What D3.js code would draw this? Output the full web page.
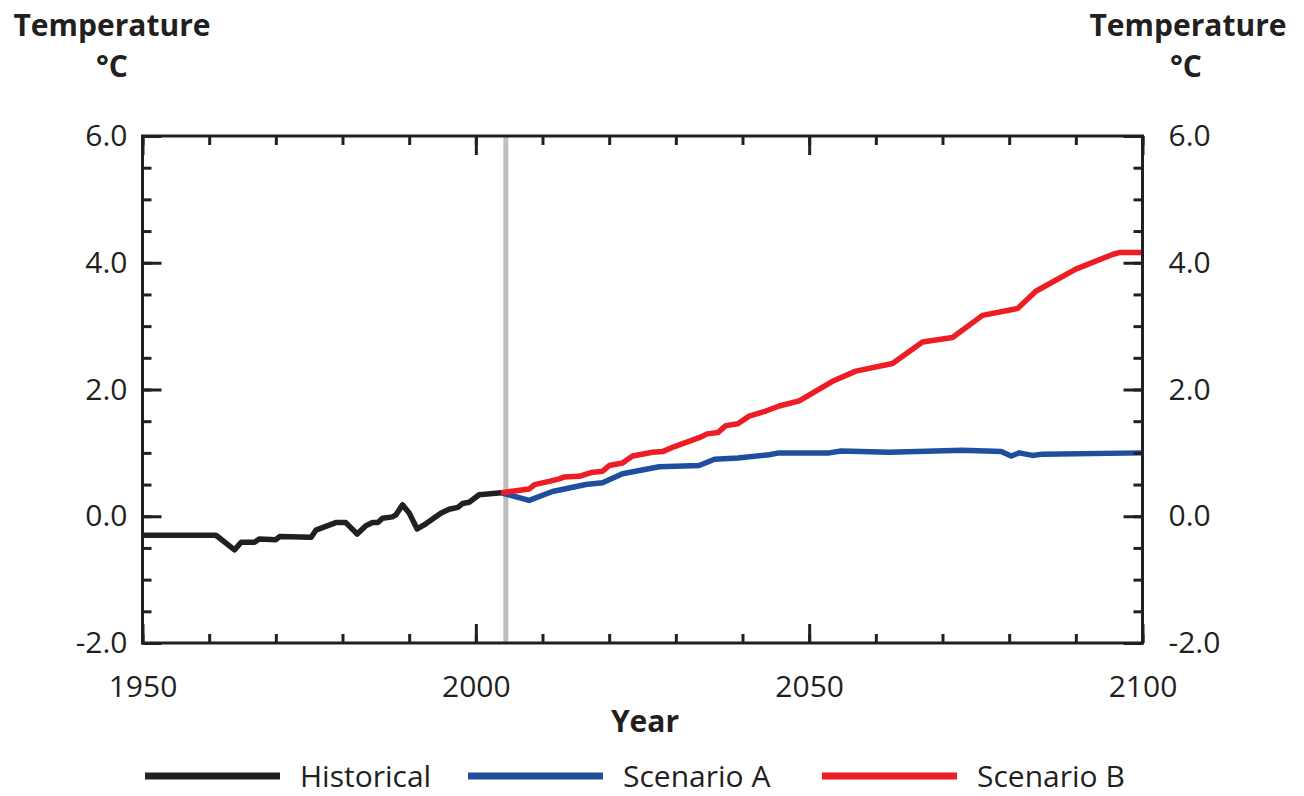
<!DOCTYPE html>
<html>
<head>
<meta charset="utf-8">
<script src="https://cdn.jsdelivr.net/npm/d3@7"></script>
<style>
  html, body { margin: 0; padding: 0; background: #fff; }
  svg text { font-family: "Open Sans", "Noto Sans", sans-serif; fill: #231f20; }
</style>
</head>
<body>
<svg id="chart" width="1304" height="796"></svg>
<script>
// ---- data ----
const histYears = [1950, 1961, 1961.5, 1963.8, 1964.8, 1966.8, 1967.5, 1970, 1970.6, 1975.3, 1976, 1979, 1980.5, 1982.2, 1983.5, 1984.5, 1985.3, 1986, 1987.5, 1988, 1989, 1990, 1991.2, 1992.5, 1994.8, 1996, 1997.3, 1998, 1999, 2000.5, 2003.8];
const histTemps = [-0.30, -0.30, -0.34, -0.53, -0.41, -0.41, -0.36, -0.37, -0.32, -0.33, -0.22, -0.10, -0.10, -0.28, -0.15, -0.10, -0.10, -0.03, -0.01, 0.02, 0.18, 0.05, -0.20, -0.12, 0.05, 0.11, 0.14, 0.20, 0.22, 0.34, 0.37];

const scenAYears = [2003.8, 2008, 2011.5, 2016.5, 2019, 2022, 2027.5, 2033.5, 2035.8, 2039.3, 2044, 2045.5, 2053, 2054.8, 2062, 2073, 2078.8, 2080.3, 2081.5, 2083.5, 2085, 2100];
const scenATemps = [0.37, 0.25, 0.39, 0.50, 0.53, 0.67, 0.78, 0.80, 0.90, 0.92, 0.97, 1.00, 1.00, 1.03, 1.01, 1.04, 1.02, 0.95, 1.00, 0.96, 0.98, 1.00];

const scenBYears = [2003.8, 2008, 2008.8, 2011, 2012.5, 2013.3, 2015.5, 2017.3, 2019, 2020, 2022, 2023.5, 2026.5, 2028, 2029.8, 2033.5, 2034.7, 2036.3, 2037.5, 2039.3, 2041, 2043.5, 2045.5, 2048.5, 2053.5, 2057, 2062.5, 2067, 2071.5, 2076, 2081.3, 2084, 2090, 2095.5, 2096.5, 2100];
const scenBTemps = [0.37, 0.43, 0.50, 0.55, 0.59, 0.62, 0.63, 0.69, 0.71, 0.80, 0.84, 0.95, 1.01, 1.02, 1.10, 1.24, 1.30, 1.32, 1.43, 1.46, 1.58, 1.66, 1.74, 1.82, 2.13, 2.29, 2.41, 2.75, 2.82, 3.17, 3.28, 3.55, 3.90, 4.13, 4.16, 4.16];

const projectionStart = 2004.5;

const xMinorTicks = d3.range(1950, 2101, 10);
const xMajorTicks = [1950, 2000, 2050, 2100];
const yMinorTicks = d3.range(-2, 6.01, 0.5);
const yMajorTicks = [-2, 0, 2, 4, 6];

const seriesNames = ["Historical", "Scenario A", "Scenario B"];
const seriesColors = ["#231f20", "#1f4e9f", "#ee1c25"];

// ---- layout ----
const svg = d3.select("#chart");
const pLeft = 142.5, pRight = 1142.5, pTop = 136, pBottom = 643;
const ink = "#231f20";

const x = d3.scaleLinear().domain([1950, 2100]).range([pLeft, pRight]);
const y = d3.scaleLinear().domain([-2, 6]).range([pBottom, pTop]);
const yFmt = v => d3.format(".1f")(v).replace("\u2212", "-");

// projection start marker
svg.append("line")
  .attr("x1", x(projectionStart)).attr("x2", x(projectionStart))
  .attr("y1", pTop).attr("y2", pBottom)
  .attr("stroke", "#bfbfbf").attr("stroke-width", 5);

// lines
const line = d3.line().x(d => x(d[0])).y(d => y(d[1]));
const series = [
  d3.zip(histYears, histTemps),
  d3.zip(scenAYears, scenATemps),
  d3.zip(scenBYears, scenBTemps)
];
series.forEach((s, i) => {
  svg.append("path").datum(s)
    .attr("d", line)
    .attr("fill", "none")
    .attr("stroke", seriesColors[i])
    .attr("stroke-width", 5.5)
    .attr("stroke-linejoin", "round");
});

// axes
function styleAxis(g) {
  g.select(".domain").remove();
  g.selectAll(".tick line").attr("stroke", ink).attr("stroke-width", 3);
  g.selectAll(".tick text").attr("font-size", 30).attr("fill", ink);
}
svg.append("g").attr("transform", `translate(0,${pBottom})`)
  .call(d3.axisBottom(x).tickValues(xMinorTicks).tickSize(-9).tickFormat("")).call(styleAxis);
svg.append("g").attr("transform", `translate(0,${pBottom})`)
  .call(d3.axisBottom(x).tickValues(xMajorTicks).tickSize(-19).tickPadding(33).tickFormat(d3.format("d"))).call(styleAxis);
svg.append("g").attr("transform", `translate(0,${pTop})`)
  .call(d3.axisTop(x).tickValues(xMinorTicks).tickSize(-9).tickFormat("")).call(styleAxis);
svg.append("g").attr("transform", `translate(0,${pTop})`)
  .call(d3.axisTop(x).tickValues(xMajorTicks).tickSize(-19).tickFormat("")).call(styleAxis);
svg.append("g").attr("transform", `translate(${pLeft},0)`)
  .call(d3.axisLeft(y).tickValues(yMinorTicks).tickSize(-9).tickFormat("")).call(styleAxis);
svg.append("g").attr("transform", `translate(${pLeft},0)`)
  .call(d3.axisLeft(y).tickValues(yMajorTicks).tickSize(-19).tickPadding(15).tickFormat(yFmt)).call(styleAxis);
svg.append("g").attr("transform", `translate(${pRight},0)`)
  .call(d3.axisRight(y).tickValues(yMinorTicks).tickSize(-9).tickFormat("")).call(styleAxis);
svg.append("g").attr("transform", `translate(${pRight},0)`)
  .call(d3.axisRight(y).tickValues(yMajorTicks).tickSize(-19).tickPadding(26).tickFormat(yFmt)).call(styleAxis);

// frame
svg.append("rect")
  .attr("x", pLeft).attr("y", pTop)
  .attr("width", pRight - pLeft).attr("height", pBottom - pTop)
  .attr("fill", "none").attr("stroke", ink).attr("stroke-width", 3);

// titles
const titleFont = 30;
[[112, "Temperature", 36], [112, "°C", 77], [1188, "Temperature", 36], [1186, "°C", 77]].forEach(t => {
  svg.append("text").attr("x", t[0]).attr("y", t[2])
    .attr("text-anchor", "middle").attr("font-weight", "bold")
    .attr("font-size", titleFont).text(t[1]);
});
svg.append("text").attr("x", 645).attr("y", 732)
  .attr("text-anchor", "middle").attr("font-weight", "bold")
  .attr("font-size", titleFont).text("Year");

// legend
const legendX = [145, 468, 822];
seriesNames.forEach((n, i) => {
  svg.append("line")
    .attr("x1", legendX[i]).attr("x2", legendX[i] + 135)
    .attr("y1", 776).attr("y2", 776)
    .attr("stroke", seriesColors[i]).attr("stroke-width", 7);
  svg.append("text").attr("x", legendX[i] + 155).attr("y", 787)
    .attr("font-size", 30).text(n);
});
</script>
</body>
</html>
